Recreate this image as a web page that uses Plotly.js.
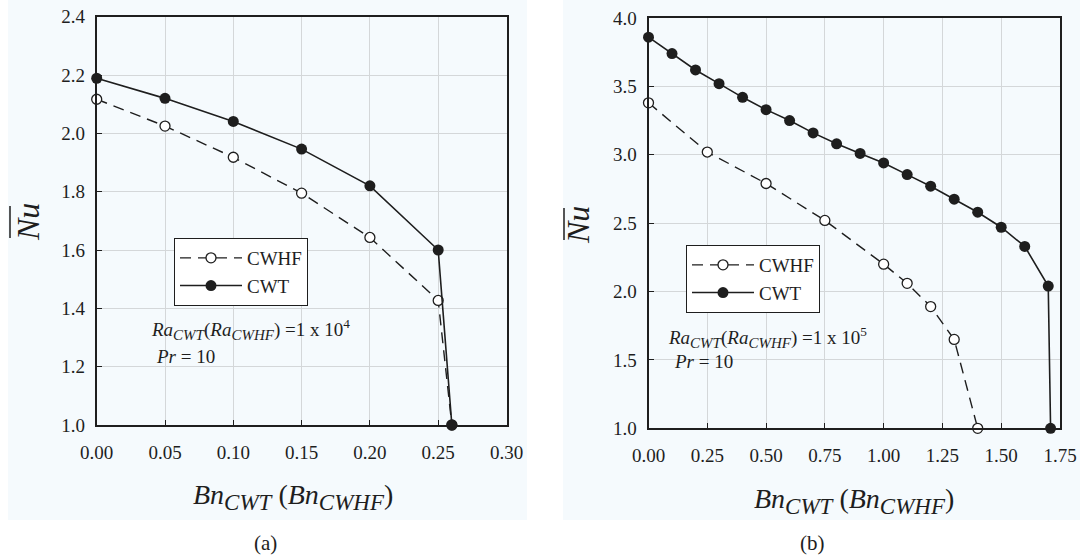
<!DOCTYPE html>
<html><head><meta charset="utf-8">
<script src="https://cdn.plot.ly/plotly-3.0.1.min.js"></script>
<style>html,body{margin:0;padding:0;background:#fff}#chart{width:1080px;height:559px}</style>
</head><body><div id="chart"></div>
<script>
// ---- data (a) ----
const bnA = [0, 0.05, 0.10, 0.15, 0.20, 0.25, 0.26];
const cwhfA = [2.117, 2.025, 1.918, 1.795, 1.643, 1.427, 1.0];
const cwtA = [2.189, 2.12, 2.041, 1.946, 1.82, 1.60, 1.0];
// ---- data (b) ----
const bnBcwhf = [0, 0.25, 0.50, 0.75, 1.00, 1.10, 1.20, 1.30, 1.40];
const cwhfB = [3.38, 3.02, 2.79, 2.52, 2.20, 2.06, 1.89, 1.65, 1.0];
const bnBcwt = [0, 0.1, 0.2, 0.3, 0.4, 0.5, 0.6, 0.7, 0.8, 0.9, 1.0, 1.1, 1.2, 1.3, 1.4, 1.5, 1.6, 1.70, 1.71];
const cwtB = [3.86, 3.74, 3.62, 3.52, 3.42, 3.33, 3.25, 3.16, 3.08, 3.01, 2.94, 2.855, 2.77, 2.675, 2.58, 2.47, 2.33, 2.04, 1.0];
// ---- labels ----
const seriesNames = ['CWHF', 'CWT'];
const xTitle = '<i>Bn</i><sub><span style="font-size:23px"><i>CWT</i></span></sub> (<i>Bn</i><sub><span style="font-size:23px"><i>CWHF</i></span></sub>)';
const yTitle = '<i>Nu</i>';
const raA = '<i>Ra</i><sub><span style="font-size:15px"><i>CWT</i></span></sub>(<i>Ra</i><sub><span style="font-size:15px"><i>CWHF</i></span></sub>) =1 x 10<sup>4</sup>';
const raB = '<i>Ra</i><sub><span style="font-size:15px"><i>CWT</i></span></sub>(<i>Ra</i><sub><span style="font-size:15px"><i>CWHF</i></span></sub>) =1 x 10<sup>5</sup>';
const prText = '<i>Pr</i> = 10';
const panelLabels = ['(a)', '(b)'];

const W = 1080, H = 559;
const px = v => v / W, py = v => 1 - v / H;
const FONT = '"Liberation Serif", "Times New Roman", Times, serif';
const INK = '#1e1e1e';
const BG = '#f5fafd';

function openTrace(x, y, xa, ya, lg) {
  return {x, y, xaxis: xa, yaxis: ya, legend: lg, name: seriesNames[0], mode: 'lines+markers', cliponaxis: false,
    line: {color: INK, width: 1.4, dash: '11px,7px'},
    marker: {symbol: 'circle', size: 10, color: '#ffffff', line: {color: INK, width: 1.3}}};
}
function fillTrace(x, y, xa, ya, lg) {
  return {x, y, xaxis: xa, yaxis: ya, legend: lg, name: seriesNames[1], mode: 'lines+markers', cliponaxis: false,
    line: {color: INK, width: 1.6},
    marker: {symbol: 'circle', size: 11, color: INK, line: {color: INK, width: 0}}};
}

const data = [
  openTrace(bnA, cwhfA, 'x', 'y', 'legend'),
  fillTrace(bnA, cwtA, 'x', 'y', 'legend'),
  openTrace(bnBcwhf, cwhfB, 'x2', 'y2', 'legend2'),
  fillTrace(bnBcwt, cwtB, 'x2', 'y2', 'legend2')
];

function ax(domain, range, dtick, fmt, anchor) {
  return {domain, range, dtick, tick0: range[0], tickformat: fmt, anchor,
    showgrid: true, gridcolor: '#d4d7d9', gridwidth: 1, zeroline: false,
    showline: true, linecolor: INK, linewidth: 2, mirror: true,
    ticks: 'inside', ticklen: 5, tickwidth: 1, tickcolor: INK,
    tickfont: {family: FONT, size: 19, color: INK}, fixedrange: true};
}

const legendStyle = (x, y) => ({x, y, xanchor: 'left', yanchor: 'top', bgcolor: '#ffffff',
  bordercolor: INK, borderwidth: 1, font: {family: FONT, size: 19, color: INK}, itemwidth: 62, tracegroupgap: 0});

const xa1 = ax([px(96.7), px(506.5)], [0, 0.30], 0.05, '.2f', 'y');
const ya1 = ax([py(425), py(16.7)], [1.0, 2.4], 0.2, '.1f', 'x');
const xa2 = ax([px(648.5), px(1060)], [0, 1.75], 0.25, '.2f', 'y2');
const ya2 = ax([py(428.3), py(18)], [1.0, 4.0], 0.5, '.1f', 'x2');
[xa1, xa2].forEach(a => a.ticklabelstandoff = 9);
[ya1, ya2].forEach(a => a.ticklabelstandoff = 6);

const ann = (text, x, y, size, opts) => Object.assign({text, x: px(x), y: py(y), xref: 'paper', yref: 'paper',
  xanchor: 'center', yanchor: 'middle',
  showarrow: false, font: {family: FONT, size, color: INK}}, opts || {});

const layout = {
  width: W, height: H, margin: {l: 0, r: 0, t: 0, b: 0},
  paper_bgcolor: '#ffffff', plot_bgcolor: BG, showlegend: true,
  font: {family: FONT, color: INK},
  xaxis: xa1, yaxis: ya1, xaxis2: xa2, yaxis2: ya2,
  legend: legendStyle(px(174), py(238)),
  legend2: legendStyle(px(686), py(245)),
  shapes: [
    {type: 'rect', xref: 'paper', yref: 'paper', x0: px(8), x1: px(527), y0: py(520), y1: py(0), fillcolor: BG, line: {width: 0}, layer: 'below'},
    {type: 'rect', xref: 'paper', yref: 'paper', x0: px(563), x1: px(1080), y0: py(520), y1: py(0), fillcolor: BG, line: {width: 0}, layer: 'below'},
    {type: 'line', xref: 'paper', yref: 'paper', x0: px(10), x1: px(10), y0: py(238), y1: py(206), line: {color: INK, width: 1.5}},
    {type: 'line', xref: 'paper', yref: 'paper', x0: px(564), x1: px(564), y0: py(240), y1: py(208), line: {color: INK, width: 1.5}}
  ],
  annotations: [
    ann(yTitle, 28, 222, 32, {textangle: -90}),
    ann(yTitle, 578, 225, 32, {textangle: -90}),
    ann(xTitle, 293, 497, 28),
    ann(xTitle, 854, 501, 28),
    ann(panelLabels[0], 265, 543, 21),
    ann(panelLabels[1], 812, 543, 21),
    ann(raA, 149, 329, 19, {xanchor: 'left'}),
    ann(prText, 154, 356, 19, {xanchor: 'left'}),
    ann(raB, 666, 337, 19, {xanchor: 'left'}),
    ann(prText, 672, 361, 19, {xanchor: 'left'})
  ]
};

Plotly.newPlot('chart', data, layout, {staticPlot: true, displayModeBar: false});
</script></body></html>
